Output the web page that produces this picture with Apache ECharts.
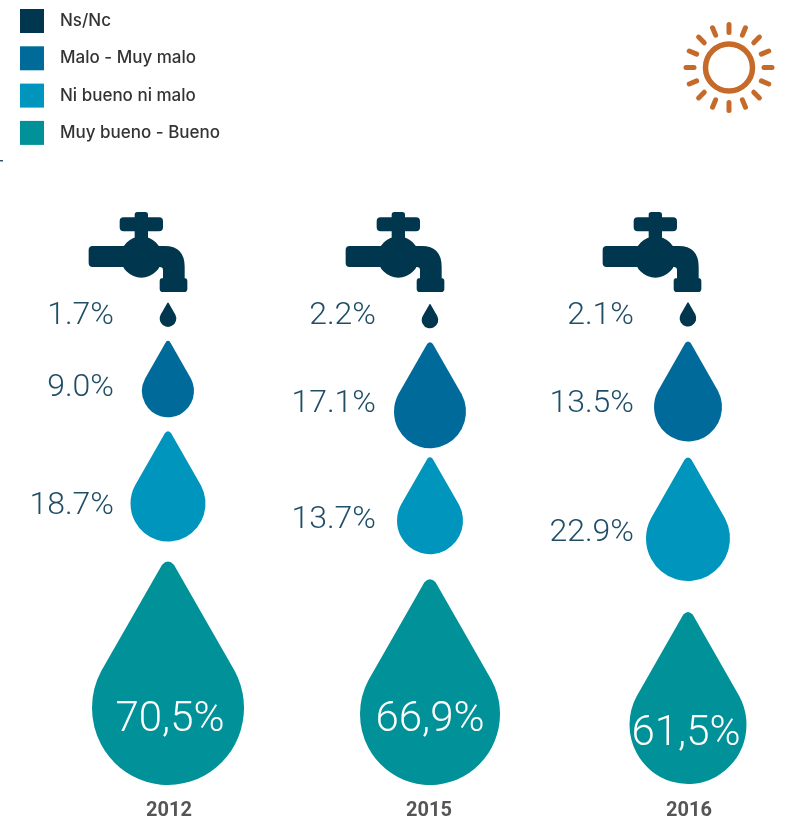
<!DOCTYPE html>
<html>
<head>
<meta charset="utf-8">
<style>html,body{margin:0;padding:0;background:#fff}#c{width:789px;height:821px}</style>
<script src="https://cdn.jsdelivr.net/npm/echarts@6/dist/echarts.min.js"></script>
</head>
<body>
<div id="c"></div>
<script>
// --- data ---
const years = ['2012', '2015', '2016'];
const ratingNames = ['Ns/Nc', 'Malo - Muy malo', 'Ni bueno ni malo', 'Muy bueno - Bueno'];
const nsNc = [1.7, 2.2, 2.1];
const malo = [9.0, 17.1, 13.5];
const niBuenoNiMalo = [18.7, 13.7, 22.9];
const bueno = [70.5, 66.9, 61.5];

// --- layout and style (not data) ---
const colors = ['#00374F', '#006B9A', '#0095BC', '#009298'];
const labelColor = '#1F4E66';
// width of each drop, in px, per year, ordered bottom rating last
const dropWidths = [
  [16.5, 16.5, 16.5],
  [52, 72, 68],
  [75, 66, 84],
  [152, 140, 117]
];
// vertical space under each drop, down to the next drop or the baseline
const dropGaps = [
  [14, 14, 15],
  [14, 9, 16],
  [20, 25, 31],
  [0, 0, 1]
];
// height of each number's centre above the baseline
const labelLifts = [
  [469, 469, 469],
  [397, 381, 381],
  [279, 265, 252],
  [65, 65, 51]
];
const dropAspect = 1.47;
const dropShiftX = [-1, 1, -1];
const insideLabelShiftX = [2, 0, -2];
const faucetShiftX = [-31, -34, -37];
const faucetLift = 533;
const labelReach = 54;

const dropPath = 'M46 2.6 Q50 -1.8 54 2.6 L94 71.5 A50 50 0 1 1 6 71.5 Z';
const faucetPath =
  'M282 36 H315 V28 Q315 20 323 20 H347 Q355 20 355 28 V36 H388 Q400 36 400 48 V66 Q400 78 388 78 H355 V100 H315 V78 H282 Q270 78 270 66 V48 Q270 36 282 36 Z ' +
  'M273 155 A62 62 0 1 1 397 155 A62 62 0 1 1 273 155 Z ' +
  'M189 122 H300 V185 H189 Q177 185 177 173 V134 Q177 122 189 122 Z ' +
  'M370 122 H405 Q465 122 465 185 V225 H400 V195 Q400 185 390 185 H370 Z ' +
  'M400 218 H463 Q473 218 473 228 V250 Q473 260 463 260 H400 Q390 260 390 250 V228 Q390 218 400 218 Z';

// bottom of a drop above the baseline: everything beneath it stacked up
function dropBase(r, y) {
  let h = dropGaps[dropGaps.length - 1][y];
  for (let k = dropWidths.length - 1; k > r; k--) {
    h += dropWidths[k][y] * dropAspect + dropGaps[k - 1][y];
  }
  return h;
}

function dropSeries(name, values, r) {
  return {
    type: 'custom',
    name: name,
    coordinateSystem: 'cartesian2d',
    itemStyle: { color: colors[r] },
    encode: { x: 0, y: 1 },
    silent: true,
    clip: false,
    data: values.map((v, i) => [i, v]),
    renderItem: function (params, api) {
      const y = api.value(0);
      const value = api.value(1);
      const w = dropWidths[r][y];
      const h = w * dropAspect;
      const base = api.coord([y, dropBase(r, y)]);
      const cx = base[0] + dropShiftX[y];
      const inside = r === 3;
      const labelY = api.coord([y, labelLifts[r][y]])[1];
      const txt = value.toFixed(1).replace('.', inside ? ',' : '.') + '%';
      return {
        type: 'group',
        children: [
          {
            type: 'path',
            shape: { pathData: dropPath, layout: 'cover', x: cx - w / 2, y: base[1] - h, width: w, height: h },
            style: { fill: colors[r] }
          },
          {
            type: 'text',
            z2: 10,
            style: {
              x: inside ? cx + insideLabelShiftX[y] : cx - labelReach,
              y: labelY,
              text: txt,
              align: inside ? 'center' : 'right',
              verticalAlign: 'middle',
              fill: inside ? '#FFFFFF' : labelColor,
              font: inside ? '300 42px Roboto' : '300 32px Roboto'
            }
          }
        ]
      };
    }
  };
}

const sunCx = 729, sunCy = 67.5, sunColor = '#C56A28';
const sunRays = [];
for (let k = 0; k < 16; k++) {
  const a = k * Math.PI / 8;
  sunRays.push({
    type: 'line',
    silent: true,
    shape: {
      x1: sunCx + 35 * Math.sin(a), y1: sunCy - 35 * Math.cos(a),
      x2: sunCx + 43 * Math.sin(a), y2: sunCy - 43 * Math.cos(a)
    },
    style: { stroke: sunColor, lineWidth: 5, lineCap: 'round' }
  });
}

const chart = echarts.init(document.getElementById('c'), null, { renderer: 'canvas' });
chart.setOption({
  animation: false,
  backgroundColor: '#fff',
  grid: { left: 39, width: 780, top: 0, bottom: 36, containLabel: false, outerBoundsMode: 'none' },
  legend: {
    data: ratingNames,
    orient: 'vertical',
    left: 15,
    top: 4,
    icon: 'rect',
    itemWidth: 24,
    itemHeight: 24,
    itemGap: 13.3,
    selectedMode: false,
    textStyle: { color: '#333333', fontFamily: 'Inter', fontWeight: 500, fontSize: 17, padding: [0, 0, 0, 11] }
  },
  xAxis: {
    type: 'category',
    data: years,
    axisLine: { show: false },
    axisTick: { show: false },
    axisLabel: { color: '#555555', fontFamily: 'Roboto', fontWeight: 700, fontSize: 20, margin: 16 }
  },
  yAxis: { type: 'value', min: 0, max: 785, show: false },
  series: [
    dropSeries(ratingNames[0], nsNc, 0),
    dropSeries(ratingNames[1], malo, 1),
    dropSeries(ratingNames[2], niBuenoNiMalo, 2),
    dropSeries(ratingNames[3], bueno, 3),
    {
      type: 'scatter',
      name: 'Grifo',
      silent: true,
      symbol: 'path://' + faucetPath,
      symbolSize: [98.7, 80],
      symbolKeepAspect: false,
      itemStyle: { color: colors[0], opacity: 1 },
      data: years.map((y, i) => ({ value: [i, faucetLift], symbolOffset: [faucetShiftX[i], 0] }))
    }
  ],
  graphic: [
    { type: 'circle', silent: true, shape: { cx: sunCx, cy: sunCy, r: 23.5 }, style: { fill: 'none', stroke: sunColor, lineWidth: 5.5 } },
    ...sunRays,
    { type: 'rect', silent: true, shape: { x: 0, y: 160, width: 3, height: 1.5 }, style: { fill: '#3A5368' } }
  ]
});
</script>
</body>
</html>
